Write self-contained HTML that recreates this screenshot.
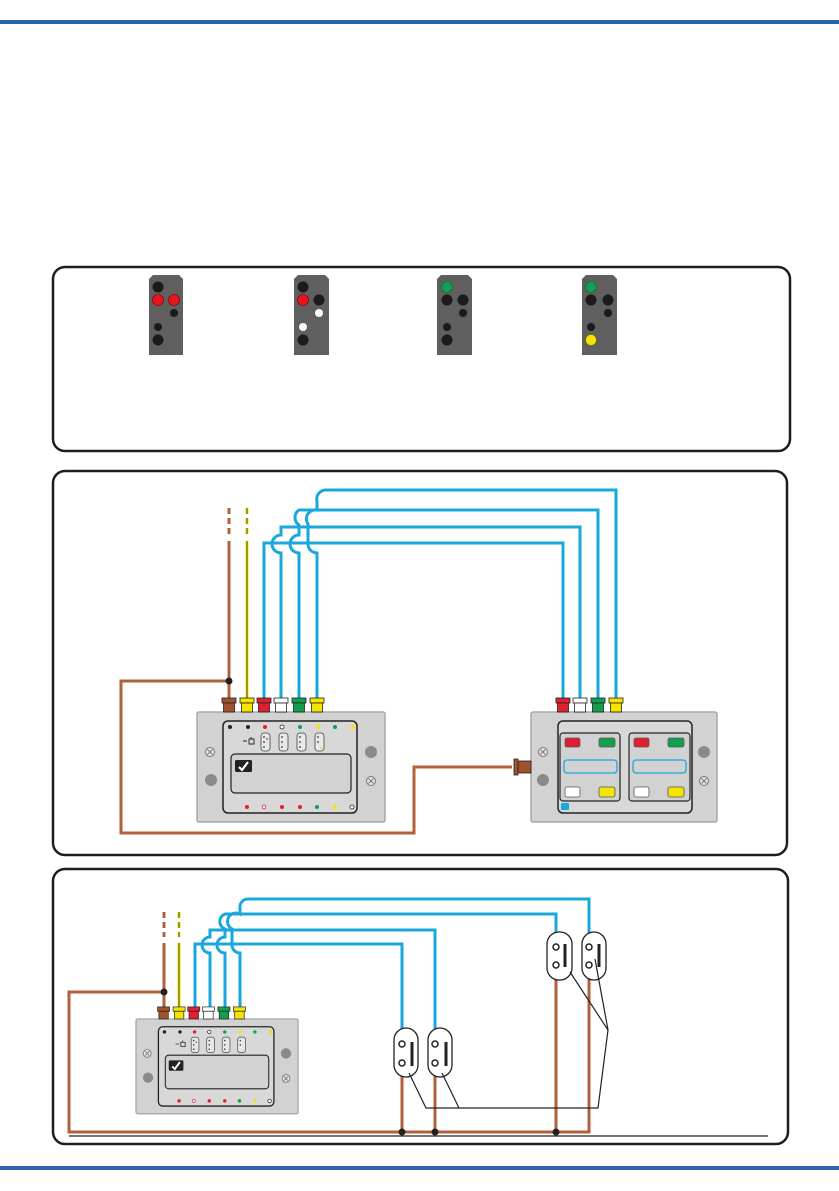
<!DOCTYPE html>
<html><head><meta charset="utf-8"><style>
html,body{margin:0;padding:0;background:#fff;}
svg{display:block;}
</style></head><body>
<svg width="839" height="1191" viewBox="0 0 839 1191" xmlns="http://www.w3.org/2000/svg">
<defs>
<g id="xs"><circle r="4.5" fill="#e6e6e6" stroke="#777" stroke-width="1"/><path d="M-2.5,-2.5 L2.5,2.5 M2.5,-2.5 L-2.5,2.5" stroke="#777" stroke-width="1"/></g>
<g id="conn1">
<rect x="-7" y="-14" width="14" height="5" stroke="#222" stroke-width="0.8"/>
<rect x="-5.5" y="-9" width="11" height="9" stroke="#222" stroke-width="0.8"/>
</g>
<g id="modA">
<rect x="0" y="0" width="188" height="110" rx="2" fill="#d2d2d2" stroke="#a8a8a8" stroke-width="1.5"/>
<rect x="26" y="9" width="134" height="92" rx="5" fill="#d8d8d8" stroke="#222" stroke-width="1.5"/>
<rect x="34" y="42" width="120" height="39" rx="4" fill="#d2d2d2" stroke="#222" stroke-width="1.2"/>
<rect x="38" y="48" width="17" height="12" rx="1.5" fill="#222"/>
<path d="M42,55 L45,58 L51,50" stroke="#fff" stroke-width="2.2" fill="none"/>
<circle cx="33" cy="15" r="2" fill="#222"/><circle cx="51" cy="15" r="2" fill="#222"/>
<circle cx="68" cy="15" r="2" fill="#e02030"/><circle cx="85" cy="15" r="2" fill="#fff" stroke="#222" stroke-width="0.8"/>
<circle cx="103" cy="15" r="2" fill="#12a050"/><circle cx="121" cy="15" r="2" fill="#f5e400"/>
<circle cx="138" cy="15" r="2" fill="#12a050"/><circle cx="156" cy="15" r="2" fill="#f5e400"/>
<path d="M46,29 h4 M52,27 h5 v5 h-5 z M54,25 v2" stroke="#222" stroke-width="0.9" fill="none"/>
<g fill="#e8e8e8" stroke="#444" stroke-width="0.8">
<rect x="64" y="21" width="9" height="18" rx="3"/><rect x="82" y="21" width="9" height="18" rx="3"/>
<rect x="100" y="21" width="9" height="18" rx="3"/><rect x="118" y="21" width="9" height="18" rx="3"/></g>
<g fill="#333"><circle cx="67" cy="25" r="0.9"/><circle cx="67" cy="30" r="0.9"/><circle cx="67" cy="35" r="0.9"/>
<circle cx="85" cy="25" r="0.9"/><circle cx="85" cy="30" r="0.9"/><circle cx="85" cy="35" r="0.9"/>
<circle cx="103" cy="25" r="0.9"/><circle cx="103" cy="30" r="0.9"/><circle cx="103" cy="35" r="0.9"/>
<circle cx="121" cy="25" r="0.9"/><circle cx="121" cy="30" r="0.9"/></g>
<circle cx="70" cy="27" r="0.9" fill="#e02030"/><circle cx="124" cy="36" r="0.9" fill="#e8d800"/>
<circle cx="50" cy="95" r="2" fill="#e02030"/><circle cx="67" cy="95" r="1.8" fill="#fff" stroke="#e02030" stroke-width="0.8"/>
<circle cx="85" cy="95" r="2" fill="#e02030"/><circle cx="103" cy="95" r="2" fill="#e02030"/>
<circle cx="120" cy="95" r="2" fill="#12a050"/><circle cx="138" cy="95" r="2" fill="#f5e400"/>
<circle cx="155" cy="95" r="2" fill="#fff" stroke="#222" stroke-width="0.8"/>
<use href="#xs" x="13" y="40"/><circle cx="14" cy="68" r="6" fill="#8a8a8a"/>
<circle cx="174" cy="40" r="6" fill="#8a8a8a"/><use href="#xs" x="174" y="69"/>
<use href="#conn1" x="32" fill="#a0522d"/><use href="#conn1" x="50" fill="#f5e400"/>
<use href="#conn1" x="67" fill="#e02030"/><use href="#conn1" x="84" fill="#fff"/>
<use href="#conn1" x="102" fill="#12a050"/><use href="#conn1" x="120" fill="#f5e400"/>
</g>
</defs>

<rect x="0" y="20" width="839" height="4" fill="#2a63ad"/>
<rect x="0" y="1166" width="839" height="4" fill="#2a63ad"/>

<rect x="53" y="267" width="737" height="184" rx="12" fill="none" stroke="#1e1e1e" stroke-width="2.5"/>
<rect x="53" y="471" width="734" height="384" rx="12" fill="none" stroke="#1e1e1e" stroke-width="2.5"/>
<rect x="53" y="869" width="735" height="275" rx="12" fill="none" stroke="#1e1e1e" stroke-width="2.5"/>

<g>
<path d="M149,279 l4,-4 h26 l4,4 v76 h-34z" fill="#5f5f5f"/>
<circle cx="158" cy="287" r="5.5" fill="#1a1a1a"/><circle cx="158" cy="300" r="5.5" fill="#e8141e" stroke="#7a0000" stroke-width="0.6"/><circle cx="174" cy="300" r="5.5" fill="#e8141e" stroke="#7a0000" stroke-width="0.6"/>
<circle cx="174" cy="313" r="4" fill="#1a1a1a"/><circle cx="158" cy="327" r="4" fill="#1a1a1a"/><circle cx="158" cy="340" r="5.5" fill="#1a1a1a"/>
</g>
<g>
<path d="M294,279 l4,-4 h27 l4,4 v76 h-35z" fill="#5f5f5f"/>
<circle cx="303" cy="287" r="5.5" fill="#1a1a1a"/><circle cx="303" cy="300" r="5.5" fill="#e8141e" stroke="#7a0000" stroke-width="0.6"/><circle cx="319" cy="300" r="5.5" fill="#1a1a1a"/>
<circle cx="319" cy="313" r="4" fill="#fff"/><circle cx="303" cy="327" r="4" fill="#fff"/><circle cx="303" cy="340" r="5.5" fill="#1a1a1a"/>
</g>
<g>
<path d="M437,279 l4,-4 h27 l4,4 v76 h-35z" fill="#5f5f5f"/>
<circle cx="447" cy="287" r="5.5" fill="#12a050" stroke="#063" stroke-width="0.6"/><circle cx="447" cy="300" r="5.5" fill="#1a1a1a"/><circle cx="463" cy="300" r="5.5" fill="#1a1a1a"/>
<circle cx="463" cy="313" r="4" fill="#1a1a1a"/><circle cx="447" cy="327" r="4" fill="#1a1a1a"/><circle cx="447" cy="340" r="5.5" fill="#1a1a1a"/>
</g>
<g>
<path d="M582,279 l4,-4 h27 l4,4 v76 h-35z" fill="#5f5f5f"/>
<circle cx="591" cy="287" r="5.5" fill="#12a050" stroke="#063" stroke-width="0.6"/><circle cx="591" cy="300" r="5.5" fill="#1a1a1a"/><circle cx="608" cy="300" r="5.5" fill="#1a1a1a"/>
<circle cx="608" cy="313" r="4" fill="#1a1a1a"/><circle cx="591" cy="327" r="4" fill="#1a1a1a"/><circle cx="591" cy="340" r="5.5" fill="#f5e400" stroke="#806000" stroke-width="0.6"/>
</g>

<!-- PANEL 2 wiring -->
<g fill="none" stroke="#1aa7de" stroke-width="3">
<path d="M264,698 V543 H563 V698"/>
<path d="M281,698 V553 A9,9 0 0 1 281,535 V527 H580 V698"/>
<path d="M299,698 V553 A9,9 0 0 1 290,544 A9,9 0 0 1 299,535 V525 A9,9 0 0 1 299,510 H598 V698"/>
<path d="M317,698 V553 A9,9 0 0 1 308,544 V524 A9,9 0 0 1 317,510 V501 A9,9 0 0 1 326,490 H616 V698"/>
</g>
<g stroke="#b0603a" stroke-width="3" fill="none">
<path d="M229,508 V514 M229,518 V524 M229,528 V534"/>
<path d="M229,541 V698"/>
<path d="M229,681 H121 V833 H414 V767 H512"/>
</g>
<circle cx="229" cy="681" r="3.5" fill="#222"/>
<path d="M247,508 V514 M247,518 V524 M247,528 V534 M247,541 V698" stroke="#f5e400" stroke-width="3"/>
<path d="M247,508 V514 M247,518 V524 M247,528 V534 M247,541 V698" stroke="#222" stroke-width="0.8"/>
<use href="#modA" x="197" y="712"/>

<g transform="translate(531,712)">
<rect x="0" y="0" width="186" height="110" rx="2" fill="#d2d2d2" stroke="#a8a8a8" stroke-width="1.5"/>
<rect x="27" y="9" width="134" height="92" rx="5" fill="#d8d8d8" stroke="#222" stroke-width="1.5"/>
<rect x="29" y="21" width="60" height="68" rx="3" fill="#d2d2d2" stroke="#222" stroke-width="1.2"/>
<rect x="98" y="21" width="61" height="68" rx="3" fill="#d2d2d2" stroke="#222" stroke-width="1.2"/>
<rect x="34" y="26" width="15" height="9" rx="2" fill="#e02030" stroke="#555" stroke-width="0.8"/>
<rect x="68" y="26" width="16" height="9" rx="2" fill="#12a050" stroke="#555" stroke-width="0.8"/>
<rect x="103" y="26" width="15" height="9" rx="2" fill="#e02030" stroke="#555" stroke-width="0.8"/>
<rect x="137" y="26" width="16" height="9" rx="2" fill="#12a050" stroke="#555" stroke-width="0.8"/>
<rect x="33" y="48" width="53" height="13" rx="3" fill="none" stroke="#1aa7de" stroke-width="1.3"/>
<rect x="102" y="48" width="53" height="13" rx="3" fill="none" stroke="#1aa7de" stroke-width="1.3"/>
<rect x="34" y="75" width="15" height="10" rx="2" fill="#fff" stroke="#555" stroke-width="0.8"/>
<rect x="68" y="75" width="16" height="10" rx="2" fill="#f5e400" stroke="#555" stroke-width="0.8"/>
<rect x="103" y="75" width="15" height="10" rx="2" fill="#fff" stroke="#555" stroke-width="0.8"/>
<rect x="137" y="75" width="16" height="10" rx="2" fill="#f5e400" stroke="#555" stroke-width="0.8"/>
<rect x="30" y="91" width="8" height="7" rx="1" fill="#1aa7de"/>
<use href="#xs" x="12" y="40"/><circle cx="12" cy="68" r="6" fill="#8a8a8a"/>
<circle cx="173" cy="40" r="6" fill="#8a8a8a"/><use href="#xs" x="173" y="69"/>
<use href="#conn1" x="32" fill="#e02030"/><use href="#conn1" x="49" fill="#fff"/>
<use href="#conn1" x="67" fill="#12a050"/><use href="#conn1" x="85" fill="#f5e400"/>
</g>
<g stroke="#222" stroke-width="0.8" fill="#a0522d">
<rect x="518" y="761" width="13" height="12"/>
<rect x="514" y="759" width="4" height="16"/>
</g>

<!-- PANEL 3 -->
<g fill="none" stroke="#1aa7de" stroke-width="3">
<path d="M195,1007 V944 H402 V1044"/>
<path d="M210,1007 V953 A8,8 0 0 1 210,937 V930 H435 V1044"/>
<path d="M225,1007 V953 A8,8 0 0 1 217,945 A8,8 0 0 1 225,937 V929 A8,8 0 0 1 225,914 H556 V947"/>
<path d="M240,1007 V953 A8,8 0 0 1 232,945 V929 A8,8 0 0 1 240,914 V908 A8,8 0 0 1 248,899 H589 V947"/>
</g>
<g stroke="#b0603a" stroke-width="3" fill="none">
<path d="M164,912 V918 M164,922 V928 M164,932 V937"/>
<path d="M164,943 V1007"/>
<path d="M164,992 H69 V1132 H589 V965"/>
<path d="M402,1063 V1132 M435,1063 V1132 M556,965 V1132"/>
</g>
<path d="M179,912 V918 M179,922 V928 M179,932 V937 M179,943 V1007" stroke="#f5e400" stroke-width="3"/>
<path d="M179,912 V918 M179,922 V928 M179,932 V937 M179,943 V1007" stroke="#222" stroke-width="0.8"/>
<circle cx="164" cy="992" r="3.5" fill="#222"/>
<circle cx="402" cy="1132" r="3.5" fill="#222"/><circle cx="435" cy="1132" r="3.5" fill="#222"/><circle cx="556" cy="1132" r="3.5" fill="#222"/>
<use href="#modA" transform="translate(136,1019) scale(0.862)"/>
<line x1="69" y1="1136" x2="768" y2="1136" stroke="#222" stroke-width="1.2"/>

<g fill="#fff" stroke="#222" stroke-width="1.3">
<rect x="394" y="1028" width="24" height="49" rx="12"/>
<rect x="428" y="1028" width="24" height="49" rx="12"/>
<rect x="547" y="932" width="25" height="48" rx="12"/>
<rect x="582" y="932" width="24" height="48" rx="12"/>
</g>
<g fill="#fff" stroke="#222" stroke-width="1.5">
<circle cx="402" cy="1044" r="3"/><circle cx="402" cy="1063" r="3"/>
<circle cx="435" cy="1044" r="3"/><circle cx="435" cy="1063" r="3"/>
<circle cx="556" cy="947" r="3"/><circle cx="556" cy="965" r="3"/>
<circle cx="589" cy="947" r="3"/><circle cx="589" cy="965" r="3"/>
</g>
<g stroke="#222" stroke-width="3">
<line x1="412" y1="1042" x2="412" y2="1066"/><line x1="446" y1="1042" x2="446" y2="1066"/>
<line x1="565" y1="944" x2="565" y2="967"/><line x1="599" y1="944" x2="599" y2="967"/>
</g>
<g stroke="#222" stroke-width="1.2" fill="none">
<path d="M409,1073 L426,1108 H598 L608,1030 L570,972"/>
<path d="M442,1073 L459,1108"/>
<path d="M608,1030 L595,959"/>
</g>
</svg>
</body></html>
